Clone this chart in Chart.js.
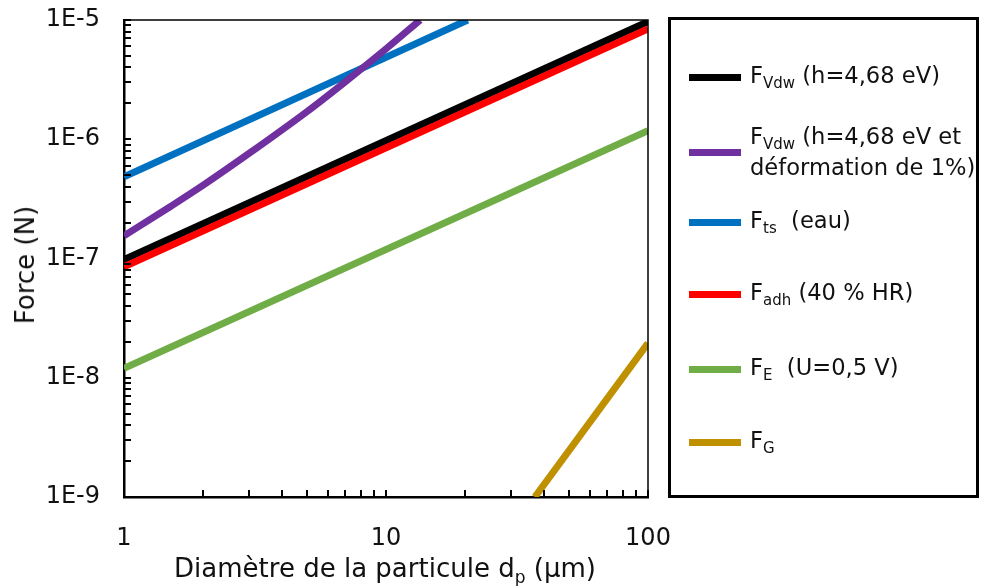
<!DOCTYPE html>
<html>
<head>
<meta charset="utf-8">
<script src="https://cdn.jsdelivr.net/npm/chart.js@4.4.0/dist/chart.umd.min.js"></script>
<style>
  html, body { margin: 0; padding: 0; background: #fff; }
  #wrap { position: relative; width: 990px; height: 586px; font-family: "DejaVu Sans", Verdana, sans-serif; color: #111; }
  #chart { position: absolute; left: 0; top: 0; }
  .ttl { position: absolute; white-space: nowrap; font-size: 26px; line-height: 30px; }
  #ytitle { left: 25px; top: 265px; transform: translate(-50%, -50%) rotate(-90deg); }
  #xtitle { left: 385px; top: 553px; transform: translateX(-50%); }
  #legend { position: absolute; left: 668px; top: 17px; width: 311px; height: 481px; border: 3px solid #000; box-sizing: border-box; }
  .sw { position: absolute; left: 18px; width: 52px; height: 7px; }
  .lt { position: absolute; left: 79px; font-size: 22.6px; line-height: 28px; white-space: nowrap; }
  .sb { font-size: 15px; position: relative; top: 5px; }
  #xtitle .sb { font-size: 17px; top: 6px; }
</style>
</head>
<body>
<div id="wrap">
  <canvas id="chart" width="700" height="586"></canvas>
  <div class="ttl" id="ytitle">Force (N)</div>
  <div class="ttl" id="xtitle">Diamètre de la particule d<span class="sb">p</span> (µm)</div>
  <div id="legend"></div>
</div>
<script>
// series: particle diameter (µm) and force (N)
const dVdw = [1, 100];
const fVdw = [9.8e-8, 9.7e-6];
const dDef = [1, 1.5, 2, 3, 5, 7, 10, 13.5];
const fDef = [1.55e-7, 2.72e-7, 4.1e-7, 7.6e-7, 1.71e-6, 3.04e-6, 5.73e-6, 1.0e-5];
const dTs = [1, 20.5];
const fTs = [4.85e-7, 1.0e-5];
const dAdh = [1, 100];
const fAdh = [8.5e-8, 8.4e-6];
const dE = [1, 100];
const fE = [1.2e-8, 1.18e-6];
const dG = [37, 100];
const fG = [1.0e-9, 1.95e-8];

// tick labels
const xMajor = [1, 10, 100];
const xTickLabels = ['1', '10', '100'];
const yMajor = [1e-9, 1e-8, 1e-7, 1e-6, 1e-5];
const yTickLabels = ['1E-9', '1E-8', '1E-7', '1E-6', '1E-5'];

// legend text (main letter, subscript, rest)
const legMain = ['F', 'F', 'F', 'F', 'F', 'F'];
const legSub = ['Vdw', 'Vdw', 'ts', 'adh', 'E', 'G'];
const legRest = [' (h=4,68 eV)', ' (h=4,68 eV et<br>déformation de 1%)', '&nbsp; (eau)', ' (40 % HR)', '&nbsp; (U=0,5 V)', ''];

const colors = ['#000000', '#7030A0', '#0070C0', '#FF0000', '#70AD47', '#BF9000'];
const fontFamily = '"DejaVu Sans", Verdana, sans-serif';

const pts = (xs, ys) => xs.map((x, i) => ({ x: x, y: ys[i] }));

// 1..9 x 10^k between two decades
function decadeTicks(min, max) {
    const out = [];
    for (let k = Math.round(Math.log10(min)); k < Math.round(Math.log10(max)); k++) {
        for (let m = 1; m <= 9; m++) out.push({ value: m * Math.pow(10, k) });
    }
    out.push({ value: max });
    return out;
}

function majorLabel(v, majors, labels) {
    const k = majors.findIndex(m => Math.abs(v / m - 1) < 1e-6);
    return k >= 0 ? labels[k] : '';
}

// top/right frame + inward tick marks
const frame = {
    id: 'frame',
    afterDraw(chart) {
        const { ctx, chartArea: a, scales: { x, y } } = chart;
        ctx.save();
        ctx.strokeStyle = '#000';
        ctx.lineWidth = 1.5;
        ctx.beginPath();
        ctx.moveTo(a.left, a.top);
        ctx.lineTo(a.right, a.top);
        ctx.lineTo(a.right, a.bottom);
        ctx.stroke();
        ctx.lineWidth = 2;
        ctx.beginPath();
        x.ticks.forEach(t => {
            const px = Math.round(x.getPixelForValue(t.value));
            ctx.moveTo(px, a.bottom);
            ctx.lineTo(px, a.bottom - 7);
        });
        y.ticks.forEach(t => {
            const py = Math.round(y.getPixelForValue(t.value));
            ctx.moveTo(a.left, py);
            ctx.lineTo(a.left + 7, py);
        });
        ctx.stroke();
        ctx.restore();
    }
};

const datasets = [
    { data: pts(dVdw, fVdw), borderColor: colors[0] },
    { data: pts(dDef, fDef), borderColor: colors[1], cubicInterpolationMode: 'monotone' },
    { data: pts(dTs, fTs), borderColor: colors[2] },
    { data: pts(dAdh, fAdh), borderColor: colors[3], order: -1 },
    { data: pts(dE, fE), borderColor: colors[4] },
    { data: pts(dG, fG), borderColor: colors[5] }
];

new Chart(document.getElementById('chart'), {
    type: 'line',
    data: { datasets: datasets },
    options: {
        responsive: false,
        animation: false,
        devicePixelRatio: 1,
        layout: { padding: { top: 20, right: 52, left: 0, bottom: 0 } },
        plugins: { legend: { display: false }, tooltip: { enabled: false } },
        elements: {
            point: { radius: 0 },
            line: { borderWidth: 7, tension: 0, borderCapStyle: 'butt', fill: false }
        },
        scales: {
            x: {
                type: 'logarithmic',
                min: 1,
                max: 100,
                grid: { display: false },
                border: { display: true, color: '#000', width: 2.5 },
                afterBuildTicks: s => { s.ticks = decadeTicks(1, 100); },
                afterFit: s => { s.height = 89; s.paddingLeft = 0; s.paddingRight = 0; },
                ticks: {
                    autoSkip: false,
                    maxRotation: 0,
                    padding: 19,
                    color: '#111',
                    font: { family: fontFamily, size: 24 },
                    callback: v => majorLabel(v, xMajor, xTickLabels)
                }
            },
            y: {
                type: 'logarithmic',
                min: 1e-9,
                max: 1e-5,
                grid: { display: false },
                border: { display: true, color: '#000', width: 2.5 },
                afterBuildTicks: s => { s.ticks = decadeTicks(1e-9, 1e-5); },
                afterFit: s => { s.width = 124; s.paddingTop = 0; s.paddingBottom = 0; },
                ticks: {
                    autoSkip: false,
                    padding: 16,
                    color: '#111',
                    font: { family: fontFamily, size: 24 },
                    callback: v => majorLabel(v, yMajor, yTickLabels)
                }
            }
        }
    },
    plugins: [frame]
});

// legend box
const legendY = [57, 132, 202, 274, 349, 422];
const legend = document.getElementById('legend');
colors.forEach((c, i) => {
    const sw = document.createElement('div');
    sw.className = 'sw';
    sw.style.background = c;
    sw.style.top = (legendY[i] - 3.5) + 'px';
    legend.appendChild(sw);
    const t = document.createElement('div');
    t.className = 'lt';
    t.innerHTML = legMain[i] + '<span class="sb">' + legSub[i] + '</span>' + legRest[i];
    legend.appendChild(t);
    const h = legRest[i].indexOf('<br>') >= 0 ? 56 : 28;
    t.style.top = (legendY[i] - h / 2 - 2) + 'px';
});
</script>
</body>
</html>
